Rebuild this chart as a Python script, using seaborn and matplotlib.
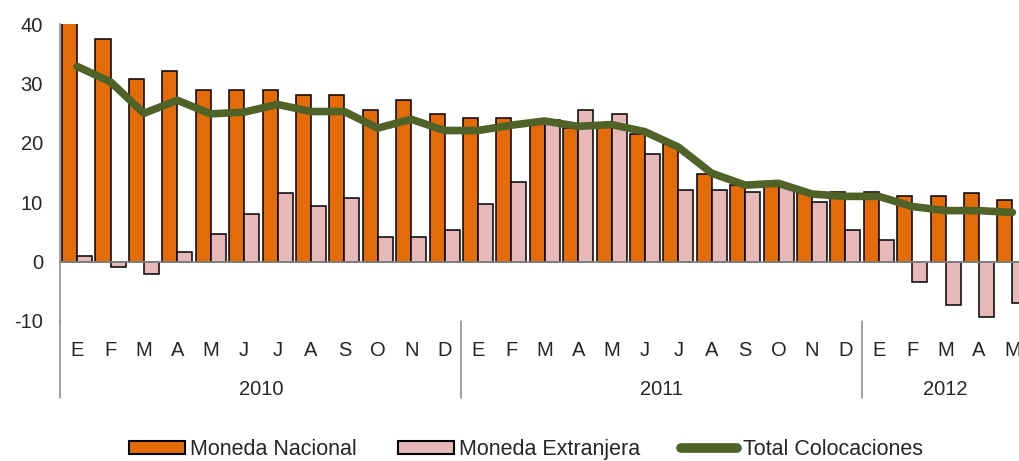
import pandas as pd
import matplotlib.pyplot as plt
import seaborn as sns
from matplotlib.patches import Patch
from matplotlib.lines import Line2D

# datos (variacion % anual)
meses = ["E", "F", "M", "A", "M", "J", "J", "A", "S", "O", "N", "D",
         "E", "F", "M", "A", "M", "J", "J", "A", "S", "O", "N", "D",
         "E", "F", "M", "A", "M"]
anios = ["2010", "2011", "2012"]
meses_por_anio = [12, 12, 5]

nacional = [42.0, 37.5, 30.8, 32.2, 28.9, 28.9, 28.9, 28.1, 28.1, 25.6, 27.2, 24.8,
            24.2, 24.2, 23.3, 22.5, 22.8, 21.5, 19.8, 14.8, 12.9, 13.0, 11.5, 11.7,
            11.7, 11.0, 11.0, 11.5, 10.4]
extranjera = [1.0, -0.9, -2.0, 1.7, 4.7, 8.1, 11.5, 9.4, 10.8, 4.1, 4.1, 5.4,
              9.8, 13.5, 23.8, 25.6, 24.8, 18.1, 12.1, 12.1, 11.8, 12.5, 10.1, 5.4,
              3.7, -3.4, -7.3, -9.3, -7.0]
total = [32.9, 30.3, 25.0, 27.2, 24.9, 25.2, 26.5, 25.3, 25.3, 22.5, 24.0, 22.1,
         22.1, 23.0, 23.7, 22.8, 23.1, 21.9, 19.3, 14.9, 12.9, 13.2, 11.4, 11.0,
         11.0, 9.3, 8.6, 8.6, 8.3]

series = ["Moneda Nacional", "Moneda Extranjera", "Total Colocaciones"]
colores = {"Moneda Nacional": "#E36C09", "Moneda Extranjera": "#E6B9B8"}
verde = "#4F6228"
gris = "#868686"

n = len(meses)
df = pd.DataFrame({
    "pos": list(range(n)) * 2,
    "valor": nacional + extranjera,
    "serie": [series[0]] * n + [series[1]] * n,
})

sns.set_style("white")
plt.rcParams['font.family'] = ['Liberation Sans', 'DejaVu Sans']
plt.rcParams['font.size'] = 14

fig = plt.figure(figsize=(10.19, 4.61), dpi=100)
ax = fig.add_axes([0.0593, 0.3037, 0.9506, 0.6436])

sns.barplot(data=df, x="pos", y="valor", hue="serie", palette=colores,
            saturation=1, width=0.9, gap=0, edgecolor="black", linewidth=1.1,
            legend=False, ax=ax)
sns.lineplot(x=list(range(n)), y=total, color=verde, linewidth=5.5,
             solid_capstyle="round", solid_joinstyle="round", ax=ax, zorder=5)

ax.set_xlim(-0.5, n - 0.5)
ax.set_ylim(-10, 40)
ax.set_yticks([-10, 0, 10, 20, 30, 40])
ax.set_yticklabels(["-10", "0", "10", "20", "30", "40"])
ax.set_xlabel("")
ax.set_ylabel("")

# eje horizontal en cero con marcas entre categorias
ax.spines['bottom'].set_position(('data', 0))
ax.spines['bottom'].set_color(gris)
ax.spines['bottom'].set_linewidth(1.3)
ax.spines['left'].set_color(gris)
ax.spines['left'].set_linewidth(1.1)
ax.spines['top'].set_visible(False)
ax.spines['right'].set_visible(False)
ax.set_xticks([i - 0.5 for i in range(n + 1)])
ax.set_xticklabels([])
ax.tick_params(axis='x', direction='out', length=3, width=1, color=gris)
ax.tick_params(axis='y', direction='out', length=4.5, width=1, color=gris,
               pad=8, labelsize=14.5)

# etiquetas de meses y anios debajo del area de graficos
tr = ax.get_xaxis_transform()
for i, m in enumerate(meses):
    ax.text(i, -0.1, m, transform=tr, ha='center', va='center', fontsize=14.5)
inicio = 0
for anio, k in zip(anios, meses_por_anio):
    ax.text(inicio + k / 2 - 0.5, -0.23, anio, transform=tr,
            ha='center', va='center', fontsize=14.5)
    ax.plot([inicio - 0.5, inicio - 0.5], [0, -0.26], transform=tr,
            color=gris, lw=1.1, clip_on=False)
    inicio += k

handles = [Patch(facecolor=colores[series[0]], edgecolor="black", linewidth=1.5),
           Patch(facecolor=colores[series[1]], edgecolor="black", linewidth=1.5),
           Line2D([0], [0], color=verde, lw=7, solid_capstyle="round")]
fig.legend(handles, series, loc='center', bbox_to_anchor=(0.516, 0.025),
           ncol=3, frameon=False, fontsize=15.5, handlelength=2.6,
           handleheight=0.55, handletextpad=0.25, columnspacing=1.9)

fig.savefig("out.png", dpi=100)
